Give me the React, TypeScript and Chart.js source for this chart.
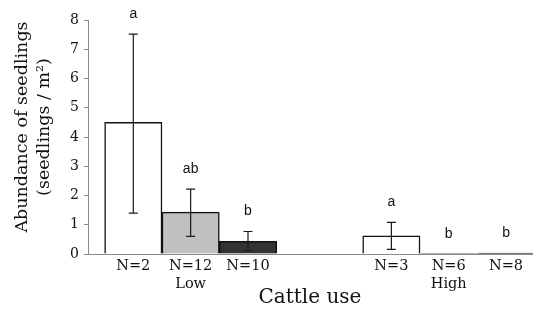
import React, { useEffect, useRef } from "react";
import { Chart, registerables } from "chart.js";

Chart.register(...registerables);

const positions = [0, 1, 2, 4.5, 5.5, 6.5];
const tickLabels: (string | string[])[] = ["N=2", ["N=12", "Low"], "N=10", "N=3", ["N=6", "High"], "N=8"];
const means = [4.5, 1.43, 0.43, 0.62, 0.01, 0.03];
const errLow = [1.4, 0.6, 0.12, 0.16, 0.0, 0.02];
const errHigh = [7.52, 2.22, 0.77, 1.08, 0.01, 0.04];
const sigLetters = ["a", "ab", "b", "a", "b", "b"];
const barColors = ["#ffffff", "#c0c0c0", "#333333", "#ffffff", "#c0c0c0", "#333333"];
const yTicks = [0, 1, 2, 3, 4, 5, 6, 7, 8];
const yTitleLines = ["Abundance of seedlings", "(seedlings / m²)"];
const xTitle = "Cattle use";

const serif = "'DejaVu Serif', serif";

const extrasPlugin = {
  id: "extras",
  afterDatasetsDraw(chart: any) {
    const ctx = chart.ctx;
    const y = chart.scales.y;
    const meta = chart.getDatasetMeta(0);
    ctx.save();
    ctx.strokeStyle = "#1a1a1a";
    ctx.lineWidth = 1.2;
    meta.data.forEach((bar: any, i: number) => {
      const x = bar.x;
      const lo = y.getPixelForValue(errLow[i]);
      const hi = y.getPixelForValue(errHigh[i]);
      if (errHigh[i] - errLow[i] > 0.05) {
        ctx.beginPath();
        ctx.moveTo(x, lo);
        ctx.lineTo(x, hi);
        ctx.moveTo(x - 4.5, lo);
        ctx.lineTo(x + 4.5, lo);
        ctx.moveTo(x - 4.5, hi);
        ctx.lineTo(x + 4.5, hi);
        ctx.stroke();
      }
      ctx.fillStyle = "#111";
      ctx.font = "14px 'Liberation Sans', Arial, sans-serif";
      ctx.textAlign = "center";
      ctx.textBaseline = "alphabetic";
      ctx.fillText(sigLetters[i], x, hi - 16);
    });
    ctx.restore();
  },
  afterDraw(chart: any) {
    const ctx = chart.ctx;
    ctx.save();
    ctx.fillStyle = "#111";
    ctx.font = `17.5px ${serif}`;
    ctx.textAlign = "center";
    ctx.textBaseline = "middle";
    ctx.translate(22, 127);
    ctx.rotate(-Math.PI / 2);
    ctx.fillText(yTitleLines[0], 0, 0);
    ctx.fillText(yTitleLines[1], 0, 22);
    ctx.restore();
    ctx.save();
    ctx.fillStyle = "#111";
    ctx.font = `20px ${serif}`;
    ctx.textAlign = "center";
    ctx.textBaseline = "middle";
    ctx.fillText(xTitle, 310, 298);
    ctx.restore();
  },
};

export default function App() {
  const ref = useRef<HTMLCanvasElement>(null);
  useEffect(() => {
    if (!ref.current) return;
    const chart = new Chart(ref.current, {
      type: "bar",
      data: {
        datasets: [
          {
            data: positions.map((p, i) => ({ x: p, y: means[i] })),
            backgroundColor: barColors,
            borderColor: "#111111",
            borderWidth: 1.5,
            categoryPercentage: 1,
            barPercentage: 1,
          },
        ],
      },
      options: {
        animation: false,
        responsive: true,
        maintainAspectRatio: false,
        layout: { padding: { top: 20, left: 0, right: 0, bottom: 0 } },
        plugins: { legend: { display: false }, tooltip: { enabled: false } },
        scales: {
          x: {
            type: "linear",
            offset: false,
            min: -0.79,
            max: 6.97,
            grid: { display: false, drawTicks: false, offset: false },
            border: { display: true, color: "#8a8a8a", width: 1 },
            afterBuildTicks: (scale: any) => {
              scale.ticks = positions.map((v) => ({ value: v }));
            },
            afterFit: (scale: any) => {
              scale.height = 58;
            },
            ticks: {
              autoSkip: false,
              maxRotation: 0,
              padding: 4,
              color: "#111",
              font: { family: serif, size: 14.5, lineHeight: 1.2 },
              callback: (_v: any, i: number) => tickLabels[i],
            },
          },
          y: {
            min: 0,
            max: 8,
            afterBuildTicks: (scale: any) => {
              scale.ticks = yTicks.map((v) => ({ value: v }));
            },
            afterFit: (scale: any) => {
              scale.width = 88;
            },
            grid: { drawOnChartArea: false, drawTicks: true, tickLength: 4, color: "#8a8a8a" },
            border: { display: true, color: "#8a8a8a", width: 1 },
            ticks: {
              padding: 5,
              color: "#111",
              font: { family: serif, size: 14 },
            },
          },
        },
      },
      plugins: [extrasPlugin],
    } as any);
    return () => chart.destroy();
  }, []);
  return (
    <div style={{ position: "fixed", left: 0, top: 0, width: 533, height: 312, background: "#fff" }}>
      <canvas ref={ref} />
    </div>
  );
}
